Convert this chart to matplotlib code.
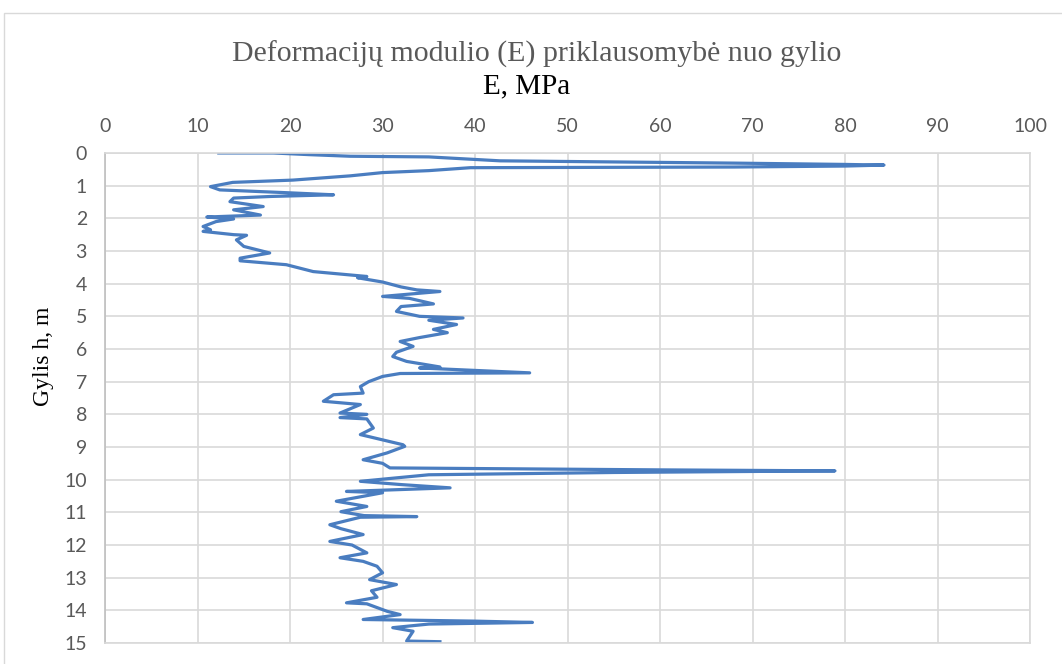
import matplotlib
matplotlib.use("Agg")
import matplotlib.pyplot as plt
from matplotlib.patches import Rectangle

# depth h (m) and deformation modulus E (MPa) along the sounding profile
depth = [0.00, 0.00, 0.05, 0.10, 0.12, 0.24, 0.31, 0.35, 0.37, 0.40, 0.43, 0.45,
         0.54, 0.60, 0.70, 0.83, 0.90, 1.03, 1.13, 1.22, 1.28, 1.33, 1.38, 1.49,
         1.64, 1.74, 1.90, 1.96, 2.02, 2.10, 2.25, 2.35, 2.40, 2.50, 2.52, 2.66,
         2.86, 3.06, 3.22, 3.30, 3.42, 3.63, 3.78, 3.82, 3.95, 4.10, 4.19, 4.24,
         4.39, 4.45, 4.62, 4.70, 4.85, 5.00, 5.05, 5.12, 5.25, 5.40, 5.50, 5.65,
         5.77, 5.92, 6.10, 6.23, 6.38, 6.55, 6.58, 6.73, 6.75, 6.84, 7.00, 7.15,
         7.35, 7.40, 7.60, 7.70, 7.96, 8.00, 8.10, 8.14, 8.42, 8.62, 8.78, 8.93,
         8.98, 9.18, 9.39, 9.50, 9.64, 9.70, 9.73, 9.78, 9.85, 10.05, 10.15, 10.25,
         10.36, 10.40, 10.66, 10.82, 10.98, 11.10, 11.13, 11.15, 11.38, 11.50, 11.68,
         11.89, 12.00, 12.24, 12.39, 12.50, 12.65, 12.85, 13.06, 13.21, 13.40, 13.60,
         13.77, 13.80, 14.03, 14.13, 14.28, 14.33, 14.37, 14.42, 14.53, 14.64, 14.94,
         14.96]
modulus = [12.3, 18.2, 22.0, 26.5, 35.0, 42.7, 68.0, 80.0, 84.2, 80.0, 68.0, 39.5,
           35.0, 30.0, 26.5, 20.3, 13.8, 11.4, 12.4, 20.0, 24.7, 18.0, 13.9, 13.5,
           17.1, 13.9, 16.8, 11.0, 13.9, 12.0, 10.6, 11.4, 10.6, 13.9, 15.3, 14.2,
           15.0, 17.8, 14.6, 14.6, 19.6, 22.5, 28.3, 27.3, 30.0, 32.0, 33.7, 36.2,
           30.0, 32.9, 35.5, 32.0, 31.5, 34.0, 38.7, 35.0, 38.0, 35.5, 37.0, 34.0,
           31.9, 33.3, 31.5, 31.1, 32.6, 36.2, 34.0, 45.9, 31.9, 30.0, 28.5, 27.6,
           27.9, 24.7, 23.6, 27.6, 25.4, 28.3, 25.4, 28.3, 29.0, 27.6, 30.0, 32.2,
           32.4, 30.5, 27.9, 30.0, 30.8, 60.0, 78.9, 55.0, 35.0, 27.6, 32.0, 37.3,
           26.1, 30.0, 25.0, 28.3, 25.5, 28.0, 33.7, 27.6, 24.3, 25.5, 27.9,
           24.3, 26.7, 28.3, 25.4, 27.9, 29.4, 30.0, 28.6, 31.5, 28.8, 29.4,
           26.1, 28.3, 30.5, 31.9, 27.9, 40.0, 46.2, 35.0, 31.1, 33.3, 32.6,
           36.2]

x_ticks = list(range(0, 101, 10))
y_ticks = list(range(0, 16))

grey_txt = "#595959"
tick_font = ["Lato", "DejaVu Sans"]
serif_font = ["Liberation Serif", "DejaVu Serif"]

fig = plt.figure(figsize=(10.62, 6.64), dpi=100)
ax = fig.add_axes([0.0989, 0.0316, 0.8711, 0.738])

ax.plot(modulus, depth, color="#4a7dc0", lw=2.3, solid_joinstyle="round")

ax.set_xlim(0, 100)
ax.set_ylim(15, 0)
ax.set_xticks(x_ticks)
ax.set_yticks(y_ticks)
ax.xaxis.tick_top()
ax.tick_params(length=0, labelsize=14, colors=grey_txt)
ax.tick_params(axis="x", pad=13)
ax.tick_params(axis="y", pad=13)
for lab in ax.get_xticklabels() + ax.get_yticklabels():
    lab.set_family(tick_font)
ax.grid(True, color="#d9d9d9", lw=1.2)
ax.set_axisbelow(True)
for s in ax.spines.values():
    s.set_color("#d9d9d9")
    s.set_linewidth(1.2)
ax.spines["left"].set_color("#bfbfbf")

# titles and axis captions
fig.text(0.5057, 0.9187, "Deformacijų modulio (E) priklausomybė nuo gylio",
         ha="center", va="center", fontsize=21.5, family=serif_font, color=grey_txt)
fig.text(0.4962, 0.870, "E, MPa", ha="center", va="center",
         fontsize=21, family=serif_font, color="black")
fig.text(0.0414, 0.464, "Gylis h, m", ha="center", va="center", rotation=90,
         fontsize=17, family=serif_font, color="black")

# chart frame
fig.patches.append(Rectangle((0.004, -0.01), 1.0, 0.99, transform=fig.transFigure,
                             fill=False, edgecolor="#d9d9d9", lw=1.0))

fig.savefig("out.png", dpi=100)
